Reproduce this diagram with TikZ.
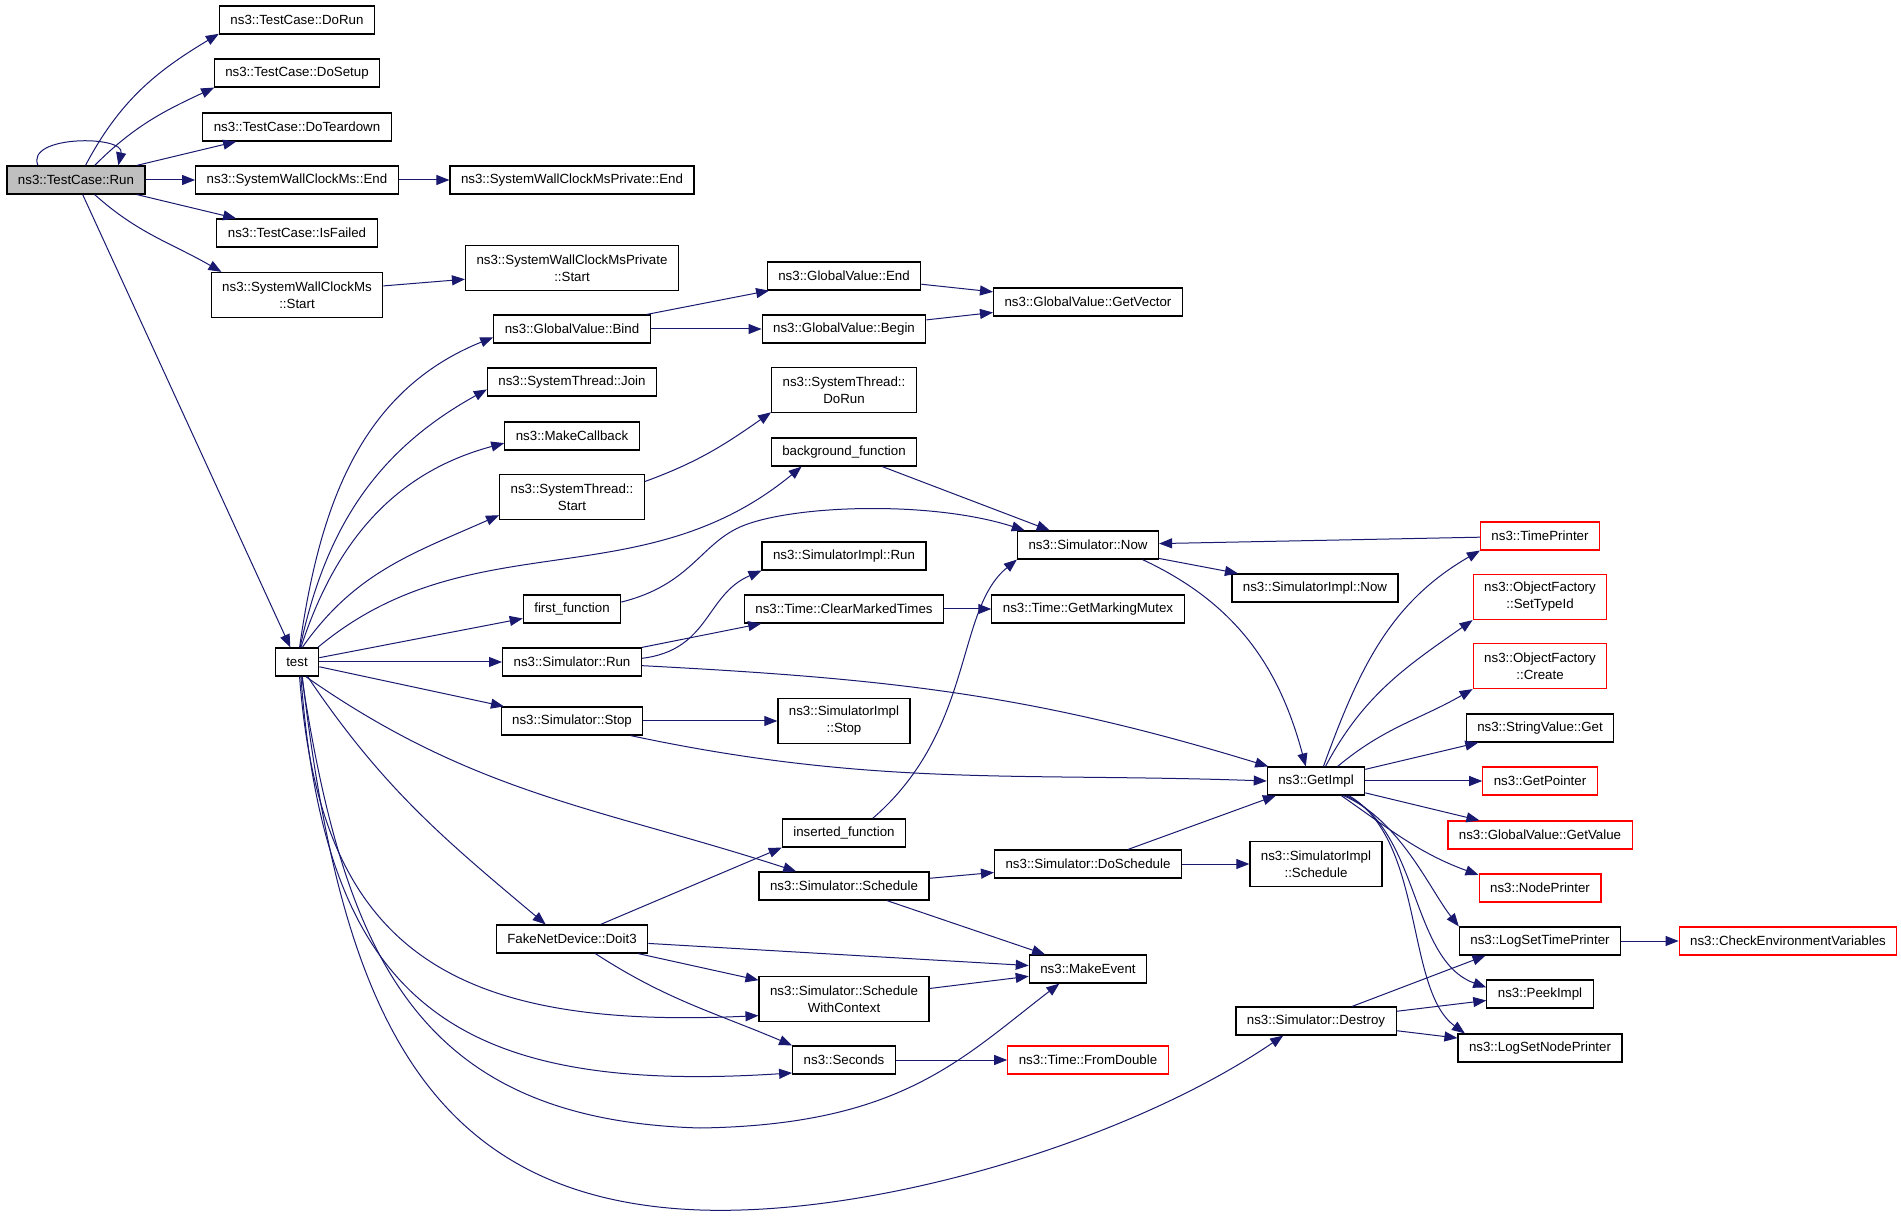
\documentclass[tikz,border=0pt]{standalone}
\usepackage{fontspec}
\setmainfont{Liberation Sans}
\usetikzlibrary{arrows.meta}
\definecolor{navy}{RGB}{25,25,112}
\begin{document}
\begin{tikzpicture}[x=.5pt,y=-.5pt,font=\fontsize{6.65}{8.5}\selectfont,
 fn/.style={draw=black,line width=.6pt,inner xsep=5.5pt,inner ysep=2pt,minimum height=14pt,align=center},
 two/.style={minimum height=22.5pt}, hl/.style={fill=gray!50}, rd/.style={draw=red},
 call/.style={draw=navy,line width=.5pt,-{Triangle[length=6.5pt,width=5pt]}},
 calls/.style={every edge/.style={call}}]
\path[use as bounding box,fill=white] (0,0) rectangle (1901,1218);
\path (76,180) node[fn,hl] (run) {ns3::TestCase::Run}
 (297,20) node[fn] (dorun) {ns3::TestCase::DoRun} (297,73) node[fn] (dosetup) {ns3::TestCase::DoSetup}
 (297,127) node[fn] (doteardown) {ns3::TestCase::DoTeardown} (297,180) node[fn] (swcend) {ns3::SystemWallClockMs::End}
 (297,233) node[fn] (isfailed) {ns3::TestCase::IsFailed} (297,295) node[fn,two] (swcstart) {ns3::SystemWallClockMs\\::Start}
 (297,662) node[fn] (test) {test};
\path (572,180) node[fn] (swcpend) {ns3::SystemWallClockMsPrivate::End}
 (572,268) node[fn,two] (swcpstart) {ns3::SystemWallClockMsPrivate\\::Start}
 (572,329) node[fn] (bind) {ns3::GlobalValue::Bind} (572,382) node[fn] (join) {ns3::SystemThread::Join}
 (572,436) node[fn] (mkcb) {ns3::MakeCallback} (572,497) node[fn,two] (ststart) {ns3::SystemThread::\\Start}
 (572,609) node[fn] (first) {first\_function} (572,662) node[fn] (simrun) {ns3::Simulator::Run}
 (572,721) node[fn] (simstop) {ns3::Simulator::Stop} (572,939) node[fn] (doit3) {FakeNetDevice::Doit3};
\path (844,276) node[fn] (gvend) {ns3::GlobalValue::End} (844,329) node[fn] (gvbegin) {ns3::GlobalValue::Begin}
 (844,390) node[fn,two] (stdorun) {ns3::SystemThread::\\DoRun} (844,452) node[fn] (bgfunc) {background\_function}
 (844,556) node[fn] (implrun) {ns3::SimulatorImpl::Run} (844,609) node[fn] (cmt) {ns3::Time::ClearMarkedTimes}
 (844,721) node[fn,two] (implstop) {ns3::SimulatorImpl\\::Stop} (844,833) node[fn] (inserted) {inserted\_function}
 (844,886) node[fn] (sched) {ns3::Simulator::Schedule} (844,999) node[fn,two] (swctx) {ns3::Simulator::Schedule\\WithContext}
 (844,1060) node[fn] (seconds) {ns3::Seconds};
\path (1088,302) node[fn] (getvector) {ns3::GlobalValue::GetVector} (1088,545) node[fn] (now) {ns3::Simulator::Now}
 (1088,609) node[fn] (mutex) {ns3::Time::GetMarkingMutex} (1088,864) node[fn] (dosched) {ns3::Simulator::DoSchedule}
 (1088,969) node[fn] (mkevent) {ns3::MakeEvent} (1088,1060) node[fn,rd] (fromdouble) {ns3::Time::FromDouble};
\path (1315,588) node[fn] (implnow) {ns3::SimulatorImpl::Now} (1316,781) node[fn] (getimpl) {ns3::GetImpl}
 (1316,864) node[fn,two] (implsched) {ns3::SimulatorImpl\\::Schedule} (1316,1021) node[fn] (destroy) {ns3::Simulator::Destroy};
\path (1540,536) node[fn,rd] (timeprinter) {ns3::TimePrinter} (1540,597) node[fn,rd,two] (settypeid) {ns3::ObjectFactory\\::SetTypeId}
 (1540,666) node[fn,rd,two] (create) {ns3::ObjectFactory\\::Create} (1540,728) node[fn] (strget) {ns3::StringValue::Get}
 (1540,781) node[fn,rd] (getptr) {ns3::GetPointer} (1540,835) node[fn,rd] (getvalue) {ns3::GlobalValue::GetValue}
 (1540,888) node[fn,rd] (nodeprinter) {ns3::NodePrinter} (1540,941) node[fn] (logtime) {ns3::LogSetTimePrinter}
 (1540,994) node[fn] (peek) {ns3::PeekImpl} (1540,1048) node[fn] (lognode) {ns3::LogSetNodePrinter}
 (1788,941) node[fn,rd] (checkenv) {ns3::CheckEnvironmentVariables};
\draw[call] (run.159) .. controls (25,135) and (125,135) .. (run.19);
\path[calls] (run.57) edge[out=62,in=211] (dorun.190) (run.38) edge[out=45,in=205] (dosetup.190)
 (run) edge (doteardown) (run) edge (swcend) (run) edge (isfailed) (run.-38) edge[out=-42,in=150] (swcstart.163)
 (run) edge (test) (swcend) edge (swcpend) (swcstart.6) edge (swcpstart.186)
 (bind) edge (gvend) (bind) edge (gvbegin) (gvend) edge (getvector) (gvbegin) edge (getvector)
 (ststart.12) edge[out=20,in=215] (stdorun.197);
\path[calls] (test.80) edge[out=82,in=202] (bind.186) (test.78) edge[out=78,in=209] (join.185)
 (test.75) edge[out=72,in=195] (mkcb.186) (test.70) edge[out=55,in=204] (ststart.194)
 (test) edge (first) (test) edge (simrun) (test) edge (simstop)
 (test.-59) edge[out=-35,in=162] (sched.163) (test.-54) edge[out=-56,in=140] (doit3.151);
\draw[call] (test.35) .. controls (470,520) and (640,600) .. (bgfunc.199);
\draw[call] (test.-80) .. controls (320,950) and (450,1030) .. (swctx.191);
\draw[call] (test.-75) .. controls (325,1000) and (450,1095) .. (seconds.194);
\draw[call] (test.-72) .. controls (345,960) and (420,1120) .. (700,1128) .. controls (900,1125) and (960,1060) .. (mkevent.207);
\draw[call] (test.-70) .. controls (340,1000) and (420,1200) .. (700,1210) .. controls (880,1216) and (1130,1140) .. (destroy.204);
\path[calls] (doit3.27) edge (inserted.south west) (doit3) edge (mkevent) (doit3) edge (swctx)
 (doit3.-32) edge[out=-33,in=157] (seconds.north west) (bgfunc) edge (now)
 (simrun.north east) edge (cmt.190) (simrun) edge[out=-3,in=163] (getimpl)
 (simstop) edge (implstop) (simstop.-14) edge[out=-12,in=178] (getimpl.west) (cmt) edge (mutex)
 (now) edge (implnow) (now.-15) edge[out=-25,in=105] (getimpl.125) (timeprinter) edge (now)
 (sched) edge (dosched) (sched) edge (mkevent) (swctx) edge (mkevent) (seconds) edge (fromdouble)
 (dosched) edge (implsched) (dosched) edge (getimpl);
\draw[call] (inserted.27) .. controls (975,730) and (955,610) .. (now.south west);
\draw[call] (first.8) .. controls (690,585) and (700,545) .. (740,527) .. controls (790,505) and (930,500) .. (now.167);
\draw[call] (simrun.3) .. controls (710,650) and (705,595) .. (implrun.south west);
\path[calls] (getimpl.63) edge[out=70,in=210] (timeprinter.south west) (getimpl.57) edge[out=62,in=215] (settypeid.south west)
 (getimpl.34) edge[out=40,in=210] (create.south west) (getimpl) edge (strget) (getimpl) edge (getptr)
 (getimpl) edge (getvalue) (getimpl.-30) edge[out=-35,in=160] (nodeprinter.168)
 (destroy.22) edge (logtime.195) (destroy) edge (peek) (destroy) edge (lognode) (logtime) edge (checkenv);
\draw[call] (getimpl.-28) .. controls (1400,820) and (1430,890) .. (logtime.north west);
\draw[call] (getimpl.-26) .. controls (1420,830) and (1410,960) .. (peek.173);
\draw[call] (getimpl.-24) .. controls (1425,840) and (1405,990) .. (lognode.169);
\end{tikzpicture}
\end{document}
